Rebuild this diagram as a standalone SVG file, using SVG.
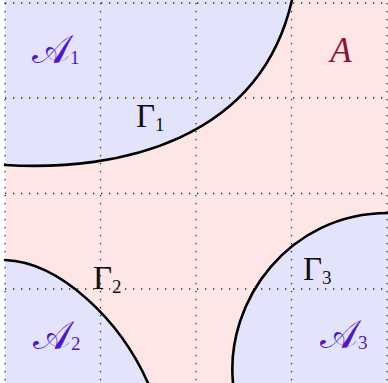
<svg xmlns="http://www.w3.org/2000/svg" width="388" height="383" viewBox="0 0 388 383">
<style>
.reg{fill:#e3e3fc;stroke:none}
.bd{fill:none;stroke:#000;stroke-width:2.6;stroke-linecap:round}
.grid{stroke:#2a2a2a;stroke-width:1.3;stroke-dasharray:1.3 6.7;fill:none}
.lab{font-family:"DejaVu Serif","Liberation Serif",serif;font-size:40px;fill:#5216c4}
.gam{font-family:"Liberation Serif","DejaVu Serif",serif;font-size:33px;fill:#111}
.sub{font-size:19px;font-family:"Liberation Serif",serif}
</style>
<rect x="5" y="0" width="383" height="383" fill="#ffe6e6"/>
<g id="A1-region"><path class="reg" d="M5 0 L292 0 C260 140 120 172 5 165 Z"/></g>
<g id="A2-region"><path class="reg" d="M5 260 C60 262 120 320 148 383 L5 383 Z"/></g>
<g id="A3-region"><path class="reg" d="M233 383 C225 300 290 213 388 213 L388 383 Z"/></g>
<g id="grid">
<path class="grid" d="M5 3V383M100.5 3V383M196 3V383M291.5 3V383M387 3V383"/>
<path class="grid" d="M5 3H388M5 98H388M5 193.5H388M5 289H388"/>
</g>
<g id="connectors">
<path class="bd" d="M5 165 C120 172 260 140 292 0"/>
<path class="bd" d="M5 260 C60 262 120 320 148 383"/>
<path class="bd" d="M233 383 C225 300 290 213 388 213"/>
</g>
<g id="A1"><text class="lab" x="32" y="63">𝒜<tspan class="sub" dy="1">1</tspan></text></g>
<g id="A"><text x="341" y="62" text-anchor="middle" font-style="italic" style="fill:#8a1538;font-family:'Liberation Serif',serif;font-size:35px">A</text></g>
<g id="Gamma1"><text class="gam" x="136" y="127">Γ<tspan class="sub" dy="4">1</tspan></text></g>
<g id="Gamma2"><text class="gam" x="93" y="289">Γ<tspan class="sub" dy="4">2</tspan></text></g>
<g id="Gamma3"><text class="gam" x="303" y="280">Γ<tspan class="sub" dy="4">3</tspan></text></g>
<g id="A2"><text class="lab" x="33" y="349">𝒜<tspan class="sub" dy="1">2</tspan></text></g>
<g id="A3"><text class="lab" x="320" y="348">𝒜<tspan class="sub" dy="1">3</tspan></text></g>
</svg>
